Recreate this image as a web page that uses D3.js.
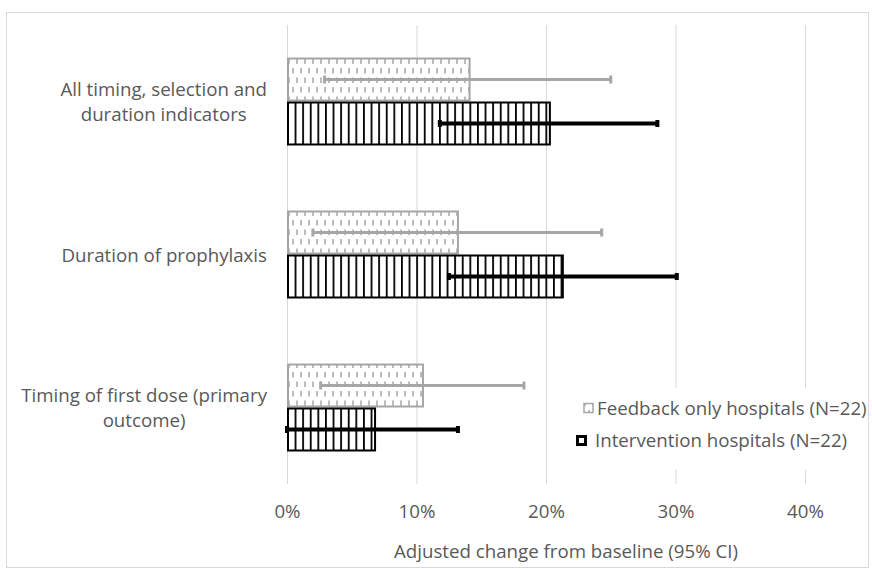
<!DOCTYPE html>
<html><head><meta charset="utf-8">
<script src="https://cdn.jsdelivr.net/npm/d3@7/dist/d3.min.js"></script>
<style>html,body{margin:0;padding:0;background:#fff;} svg{display:block;}</style>
</head><body>
<svg id="chart" width="872" height="569"></svg>
<script>
const categories = ["All timing, selection and duration indicators", "Duration of prophylaxis", "Timing of first dose (primary outcome)"];
const categoryLines = [["All timing, selection and", "duration indicators"], ["Duration of prophylaxis"], ["Timing of first dose (primary", "outcome)"]];
const seriesNames = ["Feedback only hospitals (N=22)", "Intervention hospitals (N=22)"];
const feedbackValues = [14.1, 13.2, 10.5];
const feedbackLow = [2.9, 2.0, 2.6];
const feedbackHigh = [25.0, 24.3, 18.3];
const interventionValues = [20.3, 21.3, 6.8];
const interventionLow = [11.8, 12.5, 0.0];
const interventionHigh = [28.6, 30.1, 13.2];
const tickValues = [0, 10, 20, 30, 40];
const axisTitle = "Adjusted change from baseline (95% CI)";

const FONT = "'Open Sans', sans-serif";
const FS = 18.7;
const TEXT = "#595959";
const GRAY = "#a6a6a6";
const svg = d3.select("#chart");

const x = d3.scaleLinear().domain([0, 40]).range([287, 805]);
const y = d3.scaleBand().domain(categories).range([25, 484]).paddingInner(0.425).paddingOuter(0.2125);
const y1 = d3.scaleBand().domain([0, 1]).range([0, y.bandwidth()]);

// outer border
svg.append("rect").attr("x", 6.5).attr("y", 12.5).attr("width", 862).attr("height", 555)
  .attr("fill", "#fff").attr("stroke", "#d9d9d9");

// patterns
const defs = svg.append("defs");
const pf = defs.append("pattern").attr("id", "pFeed").attr("patternUnits", "userSpaceOnUse")
  .attr("width", 8).attr("height", 19).attr("patternTransform", "translate(287,0)");
pf.append("rect").attr("width", 8).attr("height", 19).attr("fill", "#fff");
pf.append("line").attr("x1", 2).attr("x2", 2).attr("y1", 1.5).attr("y2", 7).attr("stroke", GRAY).attr("stroke-width", 1.5);
pf.append("line").attr("x1", 6).attr("x2", 6).attr("y1", 11).attr("y2", 16.5).attr("stroke", GRAY).attr("stroke-width", 1.5);
const pi = defs.append("pattern").attr("id", "pInt").attr("patternUnits", "userSpaceOnUse")
  .attr("width", 7.6).attr("height", 10).attr("patternTransform", "translate(287,0)");
pi.append("rect").attr("width", 7.6).attr("height", 10).attr("fill", "#fff");
pi.append("line").attr("x1", 0.9).attr("x2", 0.9).attr("y1", 0).attr("y2", 10).attr("stroke", "#000").attr("stroke-width", 1.8);

// gridlines
svg.append("g").selectAll("line").data(tickValues).join("line")
  .attr("x1", d => x(d) + 0.5).attr("x2", d => x(d) + 0.5)
  .attr("y1", 25).attr("y2", 484).attr("stroke", "#d9d9d9").attr("stroke-width", 1);

// x axis tick labels
const xAxis = d3.axisBottom(x).tickValues(tickValues).tickFormat(d => d + "%").tickSize(0).tickPadding(0);
const gx = svg.append("g").attr("transform", "translate(0,505)").call(xAxis);
gx.select(".domain").remove();
gx.selectAll("text").attr("font-family", FONT).attr("font-size", FS).attr("fill", TEXT).attr("dy", "0.71em");

// axis title
svg.append("text").attr("x", 566).attr("y", 558).attr("text-anchor", "middle")
  .attr("font-family", FONT).attr("font-size", FS).attr("fill", TEXT).text(axisTitle);

// category labels
categories.forEach((c, i) => {
  const lines = categoryLines[i];
  const g = svg.append("g");
  const cy = y(c) + y.bandwidth() / 2;
  const texts = g.selectAll("text").data(lines).join("text")
    .attr("font-family", FONT).attr("font-size", FS).attr("fill", TEXT)
    .attr("text-anchor", "middle")
    .attr("y", (d, j) => cy + 7 + (j - (lines.length - 1) / 2) * 25)
    .text(d => d);
  let maxW = 0;
  texts.each(function () { maxW = Math.max(maxW, this.getComputedTextLength()); });
  texts.attr("x", 267 - maxW / 2);
});

// bars
const series = [
  { vals: feedbackValues, lo: feedbackLow, hi: feedbackHigh, fill: "url(#pFeed)", stroke: GRAY, ew: 3, cap: 8 },
  { vals: interventionValues, lo: interventionLow, hi: interventionHigh, fill: "url(#pInt)", stroke: "#000", ew: 4, cap: 7 }
];
series.forEach((s, si) => {
  svg.append("g").selectAll("rect").data(categories).join("rect")
    .attr("x", x(0) + 1).attr("y", (c) => y(c) + y1(si) + 1)
    .attr("width", (c, i) => x(s.vals[i]) - x(0) - 1)
    .attr("height", y1.bandwidth() - 2)
    .attr("fill", s.fill).attr("stroke", s.stroke).attr("stroke-width", 2);
});
series.forEach((s, si) => {
  const g = svg.append("g");
  categories.forEach((c, i) => {
    const cy = y(c) + y1(si) + y1.bandwidth() / 2;
    g.append("line").attr("x1", x(s.lo[i])).attr("x2", x(s.hi[i])).attr("y1", cy).attr("y2", cy)
      .attr("stroke", s.stroke).attr("stroke-width", s.ew);
    [s.lo[i], s.hi[i]].forEach(v => {
      g.append("line").attr("x1", x(v)).attr("x2", x(v)).attr("y1", cy - s.cap / 2).attr("y2", cy + s.cap / 2)
        .attr("stroke", s.stroke).attr("stroke-width", s.ew);
    });
  });
});

// legend
const lg = svg.append("g");
lg.append("rect").attr("x", 570).attr("y", 388).attr("width", 292).attr("height", 82).attr("fill", "#fff");
const legendY = [409, 441];
seriesNames.forEach((n, i) => {
  const cy = legendY[i];
  if (i === 0) {
    lg.append("rect").attr("x", 584).attr("y", cy - 5.5).attr("width", 9).attr("height", 9)
      .attr("fill", "url(#pFeed)").attr("stroke", GRAY).attr("stroke-width", 1.5);
  } else {
    lg.append("rect").attr("x", 577.5).attr("y", cy - 4.5).attr("width", 8).attr("height", 8)
      .attr("fill", "#fff").attr("stroke", "#000").attr("stroke-width", 3);
  }
  lg.append("text").attr("x", i === 0 ? 597 : 595).attr("y", cy + 6)
    .attr("font-family", FONT).attr("font-size", FS).attr("fill", TEXT).text(n);
});
</script>
</body></html>
